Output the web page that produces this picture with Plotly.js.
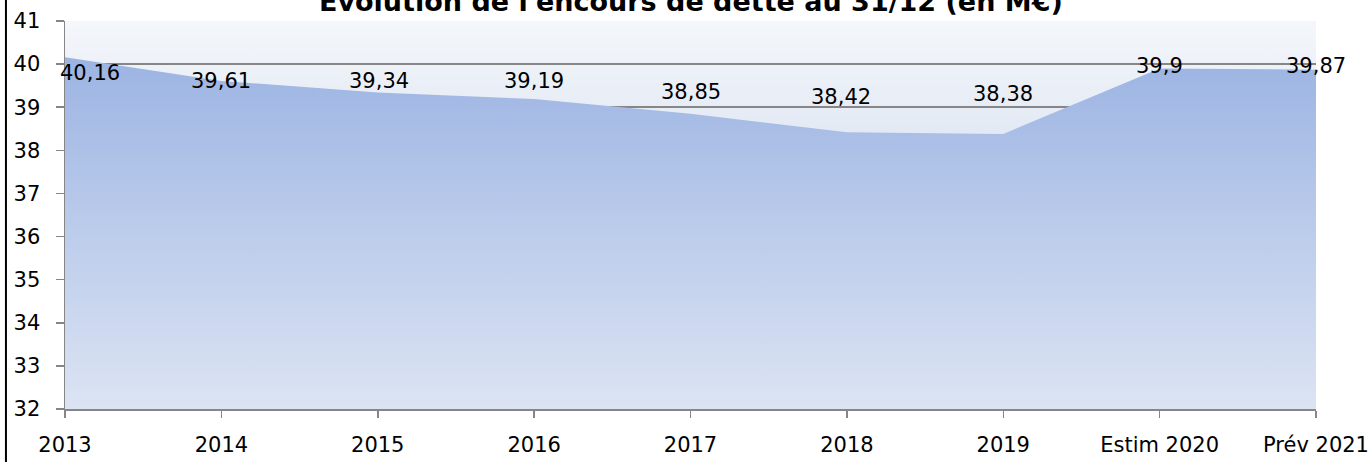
<!DOCTYPE html>
<html>
<head>
<meta charset="utf-8">
<script src="https://cdn.plot.ly/plotly-3.0.1.min.js"></script>
<style>
html,body{margin:0;padding:0;background:#fff;}
#chart{width:1371px;height:462px;}
</style>
</head>
<body>
<div id="chart"></div>
<script>
// ---- data ----
var categories = ["2013","2014","2015","2016","2017","2018","2019","Estim 2020","Prév 2021"];
var encours = [40.16, 39.61, 39.34, 39.19, 38.85, 38.42, 38.38, 39.9, 39.87];
var valueLabels = ["40,16","39,61","39,34","39,19","38,85","38,42","38,38","39,9","39,87"];
var yTicks = [32,33,34,35,36,37,38,39,40,41];
var titleText = "Evolution de l'encours de dette au 31/12 (en M€)";

// ---- label placement (pixel offsets from each point) ----
var labelShiftX = [25, 0, 1, 0, 0, -6, 0, 0, 0];
var labelShiftY = [-16, 0, 12, 18, 22, 35, 40, 2, 4];

var FONT = "DejaVu Sans";
var GRID = "#868686";

var bgSvg = "<svg xmlns='http://www.w3.org/2000/svg' width='10' height='100' viewBox='0 0 10 100' preserveAspectRatio='none'>" +
  "<defs><linearGradient id='g' x1='0' y1='0' x2='0' y2='1'>" +
  "<stop offset='0' stop-color='#F4F7FB'/><stop offset='1' stop-color='#BAC8E3'/>" +
  "</linearGradient></defs><rect width='10' height='100' fill='url(#g)'/></svg>";
var bgUri = "data:image/svg+xml;charset=utf-8," + encodeURIComponent(bgSvg);

var trace = {
  type: "scatter",
  mode: "lines",
  x: categories,
  y: encours,
  fill: "tozeroy",
  line: {width: 0, color: "rgba(0,0,0,0)"},
  fillgradient: {
    type: "vertical",
    start: 32,
    stop: 40.16,
    colorscale: [[0, "#DCE4F3"], [1, "#9CB4E3"]]
  },
  hoverinfo: "x+y"
};

var annotations = categories.map(function (c, i) {
  return {
    x: i, y: encours[i], xref: "x", yref: "y",
    text: valueLabels[i], showarrow: false,
    xanchor: "center", yanchor: "middle",
    xshift: labelShiftX[i], yshift: labelShiftY[i],
    font: {family: FONT, size: 21, color: "#000"}
  };
});
annotations.push({
  text: "<b>" + titleText + "</b>",
  xref: "paper", yref: "paper", x: 0.5, y: 1,
  xanchor: "center", yanchor: "bottom", yshift: 2,
  showarrow: false,
  font: {family: FONT, size: 27, color: "#000"}
});

var layout = {
  width: 1371, height: 462,
  margin: {l: 65, r: 55, t: 21, b: 53, pad: 0},
  paper_bgcolor: "#ffffff",
  plot_bgcolor: "rgba(0,0,0,0)",
  showlegend: false,
  font: {family: FONT, size: 21, color: "#000"},
  xaxis: {
    type: "category",
    range: [0, categories.length - 1],
    showgrid: false,
    showline: true, linecolor: GRID, linewidth: 2,
    ticks: "outside", ticklen: 7, tickwidth: 1.5, tickcolor: GRID,
    ticklabelstandoff: 9,
    tickfont: {family: FONT, size: 21, color: "#000"},
    fixedrange: true
  },
  yaxis: {
    range: [32, 41],
    tickmode: "array", tickvals: yTicks, ticktext: yTicks.map(String),
    showgrid: true, gridcolor: GRID, gridwidth: 2,
    zeroline: false,
    showline: true, linecolor: GRID, linewidth: 1.5,
    ticks: "outside", ticklen: 8, tickwidth: 1.5, tickcolor: GRID,
    ticklabelstandoff: 11,
    tickfont: {family: FONT, size: 21, color: "#000"},
    fixedrange: true
  },
  images: [{
    source: bgUri, xref: "paper", yref: "paper",
    x: 0, y: 1, sizex: 1, sizey: 1,
    xanchor: "left", yanchor: "top",
    sizing: "stretch", layer: "below"
  }],
  shapes: [{
    type: "line", xref: "paper", yref: "paper",
    x0: -0.0472, x1: -0.0472, y0: -0.2, y1: 1.1,
    line: {color: "#000", width: 2}
  }],
  annotations: annotations
};

Plotly.newPlot("chart", [trace], layout, {displayModeBar: false, staticPlot: true});
</script>
</body>
</html>
